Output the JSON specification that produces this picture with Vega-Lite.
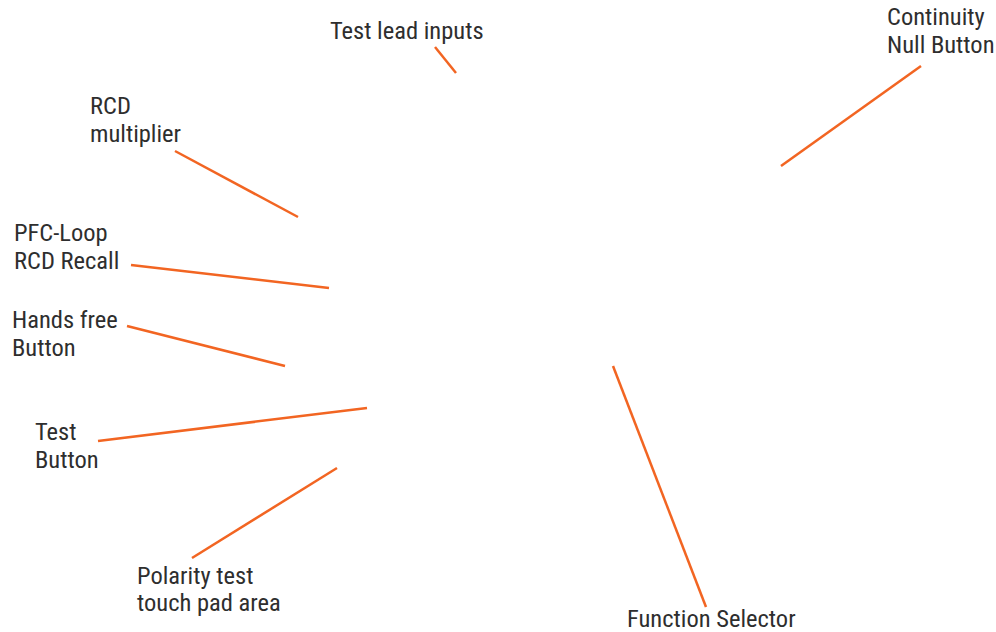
{
  "$schema": "https://vega.github.io/schema/vega-lite/v6.json",
  "width": 996,
  "height": 632,
  "autosize": {"type": "fit", "contains": "padding"},
  "padding": 0,
  "background": "white",
  "config": {"view": {"stroke": null}},
  "datasets": {
    "leaders": [
      {"label": "Test lead inputs", "x": 435, "y": 47, "x2": 456, "y2": 73},
      {"label": "Continuity Null Button", "x": 921, "y": 66, "x2": 781, "y2": 166},
      {"label": "RCD multiplier", "x": 175, "y": 151, "x2": 298, "y2": 217},
      {"label": "PFC-Loop RCD Recall", "x": 131, "y": 265, "x2": 329, "y2": 288},
      {"label": "Hands free Button", "x": 127, "y": 326, "x2": 285, "y2": 366},
      {"label": "Test Button", "x": 98, "y": 441, "x2": 367, "y2": 408},
      {"label": "Polarity test touch pad area", "x": 192, "y": 558, "x2": 337, "y2": 468},
      {"label": "Function Selector", "x": 613, "y": 366, "x2": 706, "y2": 607}
    ],
    "labels": [
      {"text": "Test lead inputs", "x": 330, "y": 32},
      {"text": "Continuity", "x": 887, "y": 18},
      {"text": "Null Button", "x": 887, "y": 46},
      {"text": "RCD", "x": 90, "y": 107},
      {"text": "multiplier", "x": 90, "y": 135},
      {"text": "PFC-Loop", "x": 14, "y": 234},
      {"text": "RCD Recall", "x": 14, "y": 262},
      {"text": "Hands free", "x": 12, "y": 321},
      {"text": "Button", "x": 12, "y": 349},
      {"text": "Test", "x": 35, "y": 433},
      {"text": "Button", "x": 35, "y": 461},
      {"text": "Polarity test", "x": 137, "y": 577},
      {"text": "touch pad area", "x": 137, "y": 604},
      {"text": "Function Selector", "x": 627, "y": 620}
    ]
  },
  "layer": [
    {
      "data": {"name": "leaders"},
      "mark": {"type": "rule", "color": "#f26522", "strokeWidth": 2.5},
      "encoding": {
        "x": {"field": "x", "type": "quantitative", "scale": {"domain": [0, 996], "nice": false, "zero": false}, "axis": null},
        "y": {"field": "y", "type": "quantitative", "scale": {"domain": [0, 632], "nice": false, "zero": false, "reverse": true}, "axis": null},
        "x2": {"field": "x2"},
        "y2": {"field": "y2"}
      }
    },
    {
      "data": {"name": "labels"},
      "mark": {"type": "text", "align": "left", "baseline": "middle", "font": "Liberation Sans Narrow, Roboto Condensed, Roboto, sans-serif", "fontSize": 24.5, "fontWeight": 400, "color": "#2e2e2e"},
      "encoding": {
        "x": {"field": "x", "type": "quantitative", "scale": {"domain": [0, 996], "nice": false, "zero": false}, "axis": null},
        "y": {"field": "y", "type": "quantitative", "scale": {"domain": [0, 632], "nice": false, "zero": false, "reverse": true}, "axis": null},
        "text": {"field": "text", "type": "nominal"}
      }
    }
  ]
}
